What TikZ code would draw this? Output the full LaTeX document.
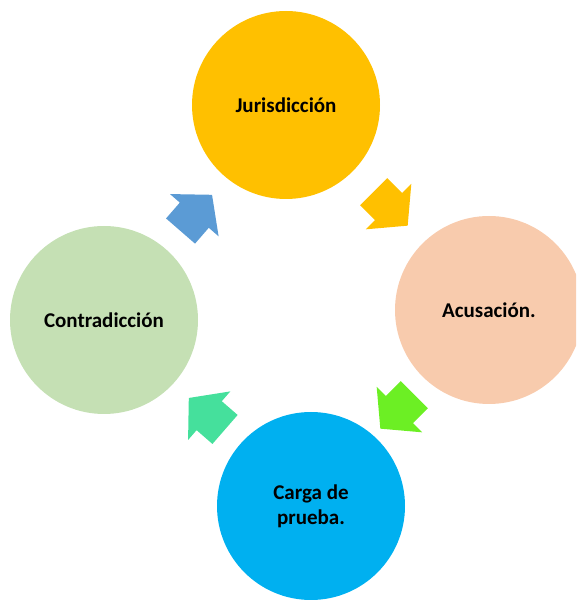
\documentclass[tikz,border=0pt]{standalone}
\usepackage{fontspec}
\setmainfont{Carlito}
\usetikzlibrary{
    shapes.arrows,  % For the block arrows between the stages
    positioning     % For relative positioning of nodes
}
\definecolor{jurgold}{HTML}{FFC000}
\definecolor{acupeach}{HTML}{F8CBAD}
\definecolor{cargablue}{HTML}{00B0F0}
\definecolor{contgreen}{HTML}{C5E0B4}
\definecolor{arrowgreen}{HTML}{6CEF24}
\definecolor{arrowteal}{HTML}{45E09C}
\definecolor{arrowblue}{HTML}{5B9BD5}
\tikzset{
    % Style for the stage circles
    stage/.style={
        circle,
        minimum size=188pt,
        inner sep=0pt,
        align=center,
        font=\fontsize{21}{25}\selectfont\bfseries
    },
    % Style for the block arrows of the cycle
    cyclearrow/.style={
        single arrow,
        inner xsep=0pt,
        inner ysep=19pt,
        minimum height=48pt,
        single arrow head extend=13pt,
        single arrow tip angle=100
    }
}

\begin{document}
\begin{tikzpicture}[x=1pt, y=1pt]
    \useasboundingbox (0,0) rectangle (576,600);
    \clip (0,0) rectangle (576,600);

    % --- The four stages ---
    \node (juris)  [stage, fill=jurgold]   at (286,495) {Jurisdicción};
    \node (acus)   [stage, fill=acupeach]  at (489,290) {Acusación.};
    \node (carga)  [stage, fill=cargablue] at (311,94) {Carga de\\prueba.};
    \node (contra) [stage, fill=contgreen] at (104,280) {Contradicción};

    % --- The arrows between them ---
    \node (a1) [cyclearrow, fill=jurgold,    rotate=-45]  at (385,397) {};
    \node (a2) [cyclearrow, fill=arrowgreen, rotate=-135] at (403,194) {};
    \node (a3) [cyclearrow, fill=arrowteal,  rotate=139]  at (213,181) {};
    \node (a4) [cyclearrow, fill=arrowblue,  rotate=49]   at (191,381) {};
\end{tikzpicture}
\end{document}
